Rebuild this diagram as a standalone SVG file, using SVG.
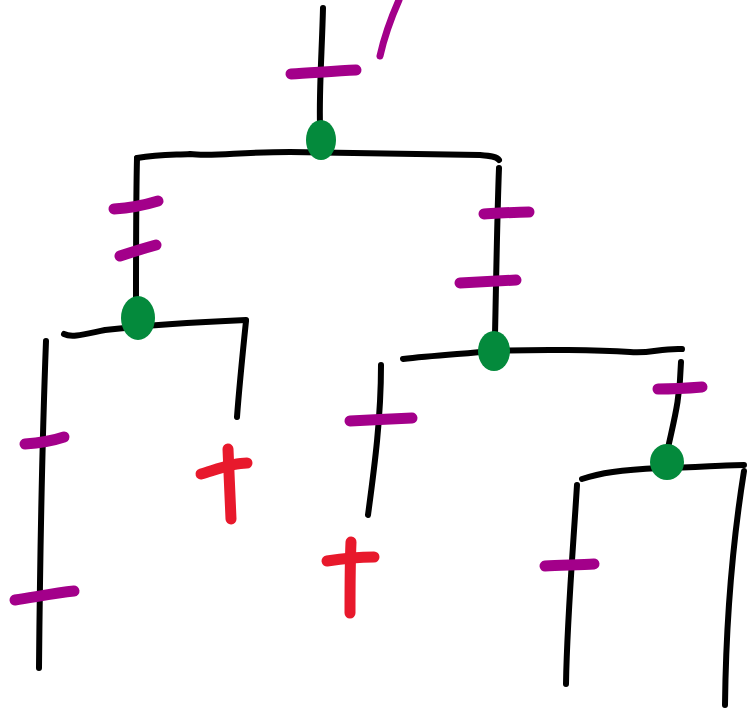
<svg xmlns="http://www.w3.org/2000/svg" width="748" height="711" viewBox="0 0 748 711">
<style>
.e{fill:none;stroke:#000;stroke-width:6;stroke-linecap:round;stroke-linejoin:round}
.m{fill:none;stroke:#a3008a;stroke-width:11;stroke-linecap:round}
.x{fill:none;stroke:#e8192c;stroke-width:11;stroke-linecap:round}
.n{fill:#048a3c}
</style>
<rect width="748" height="711" fill="#fff"/>
<g id="connectors">
<path class="e" d="M323,8 C322,50 319,90 320,125"/>
<path class="e" d="M137,158 C160,154 175,155 190,154 C210,157 240,152 290,152 C380,153 440,154 480,155 C492,156 497,157 499,160"/>
<path class="e" d="M137,158 C136,200 136,260 136,305"/>
<path class="e" d="M64,334 C72,338 85,334 105,330 C150,325 200,322 246,320"/>
<path class="e" d="M246,321 C243,350 239,390 237,417"/>
<path class="e" d="M46,341 C43,420 40,560 39,668"/>
<path class="e" d="M499,168 C497,220 496,290 495,335"/>
<path class="e" d="M403,359 C430,356 460,354 493,351 C540,349 600,350 630,352 C650,354 660,348 682,349"/>
<path class="e" d="M381,365 C381,420 374,470 368,515"/>
<path class="e" d="M681,362 C680,400 674,420 668,448"/>
<path class="e" d="M582,479 C600,473 620,470 660,468 C700,467 725,465 744,465"/>
<path class="e" d="M577,485 C573,550 567,620 566,684"/>
<path class="e" d="M744,471 C733,540 726,620 725,705"/>
</g>
<g id="marks">
<path class="m" d="M291,74 C310,73 335,71 356,70"/>
<path class="m" style="stroke-width:7" d="M399,0 C391,18 384,38 380,56"/>
<path class="m" d="M114,209 C130,208 145,205 158,201"/>
<path class="m" d="M120,256 C132,252 145,248 156,245"/>
<path class="m" d="M25,444 C40,443 55,440 64,437"/>
<path class="m" d="M15,600 C35,597 55,593 74,591"/>
<path class="m" d="M484,214 C500,213 515,212 529,212"/>
<path class="m" d="M460,283 C480,282 500,281 516,280"/>
<path class="m" d="M350,421 C370,420 395,419 412,418"/>
<path class="m" d="M658,389 C675,389 690,388 702,387"/>
<path class="m" d="M545,566 C560,565 580,565 594,564"/>
</g>
<g id="node-root"><ellipse class="n" cx="321" cy="140" rx="15" ry="20"/></g>
<g id="node-left"><ellipse class="n" cx="138" cy="318" rx="17" ry="22"/></g>
<g id="node-right"><ellipse class="n" cx="494" cy="351" rx="16" ry="20"/></g>
<g id="node-rr"><ellipse class="n" cx="667" cy="462" rx="17" ry="18"/></g>
<g id="extinct-1">
<path class="x" d="M228,449 C229,470 230,500 231,519"/>
<path class="x" d="M201,474 C215,470 232,463 247,463"/>
</g>
<g id="extinct-2">
<path class="x" d="M351,542 C350,565 350,590 350,613"/>
<path class="x" d="M327,561 C340,559 360,557 374,557"/>
</g>
</svg>
